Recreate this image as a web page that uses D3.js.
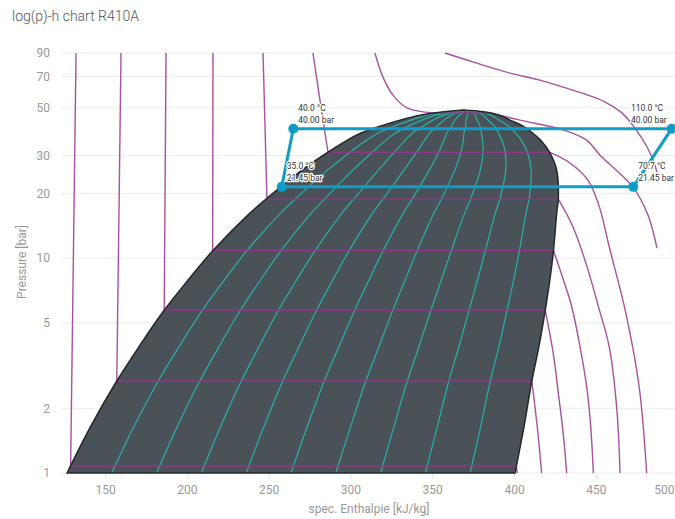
<!DOCTYPE html>
<html>
<head>
<meta charset="utf-8">
<script src="https://cdn.jsdelivr.net/npm/d3@7"></script>
<style>
  body { margin: 0; background: #fff; }
  svg text { font-family: Roboto, "Noto Sans", sans-serif; }
</style>
</head>
<body>
<svg width="675" height="519"></svg>
<script>
// saturation line of R410A, pressure in bar, enthalpy in kJ/kg
let satP  = [1.00, 1.64, 2.68, 3.90, 5.67, 7.82, 10.78, 16.19, 19.0, 25.66, 31.1, 35.4, 38.1, 41.1, 43.85, 46.25, 47.76, 48.8];
let satHl = [126.8, 141.1, 157.2, 171.1, 185.8, 200.3, 215.7, 238.6, 249.1, 270.4, 286.3, 298.2, 306.2, 318.1, 330.3, 342.5, 354.8, 368.8];
let satHv = [400.6, 406.1, 410.9, 415.3, 419.0, 421.8, 424.1, 426.1, 427.1, 426.1, 421.7, 416.2, 411.6, 405.5, 397.6, 390.8, 383.5, 368.8];

// vapour quality lines inside the dome
let qualities = [0.1, 0.2, 0.3, 0.4, 0.5, 0.6, 0.7, 0.8, 0.9];

// isotherms [h, p]: liquid part (down to saturation) and vapour part (from saturation)
let isoTemps = [-50, -30, -10, 10, 30, 50, 70, 90];
let isoLiquid = [
    [[132.3, 90], [129.0, 1.078]],
    [[159.8, 90], [157.2, 2.68]],
    [[187.3, 90], [186.2, 5.73]],
    [[216.0, 90], [215.8, 10.87]],
    [[246.6, 90], [249.0, 18.8]],
    [[277.1, 90], [281.4, 54.3], [286.3, 31.1]],
    [[315.0, 90], [319.9, 69.5], [326.0, 57.3], [334.6, 50.0], [351.0, 47.3]],
    [[357.8, 90], [379.2, 79.9], [397.6, 72.5], [415.9, 67.3], [430.0, 62.4], [443.5, 57.9],
     [455.7, 53.2], [466.1, 47.25], [474.7, 39.5], [481.4, 32.8], [485.0, 28.6], [487.4, 25.1]]
];
let isoVapour = [
    [[401.4, 1.078], [402.0, 1.0]],
    [[410.9, 2.68], [414.2, 1.64], [416.9, 1.0]],
    [[419.1, 5.73], [424.0, 3.6], [427.1, 2.35], [430.0, 1.55], [432.2, 1.0]],
    [[424.1, 10.87], [430.0, 8.0], [435.3, 5.94], [440.0, 4.0], [444.5, 2.5], [447.0, 1.6], [448.5, 1.0]],
    [[427.1, 18.8], [436.0, 14.0], [444.0, 9.45], [452.0, 5.8], [458.2, 3.87], [462.9, 1.96], [464.8, 1.0]],
    [[421.7, 31.1], [434.2, 27.7], [445.2, 23.06], [452.0, 17.5], [458.2, 11.29], [468.4, 5.53], [476.5, 2.52], [481.1, 1.0]],
    [[385.7, 47.3], [403.7, 43.85], [430.1, 39.5], [444.4, 35.4], [452.6, 30.1], [472.7, 21.39], [481.9, 15.87], [487.4, 11.13]],
    []
];

// refrigeration cycle points
let cycleH = [265.1, 258.0, 472.9, 496.4];
let cycleP = [40.0, 21.45, 21.45, 40.0];
let cycleT = [40.0, 35.0, 70.7, 110.0];

// axis ticks
let xTicks = [150, 200, 250, 300, 350, 400, 450, 500];
let yTicks = [1, 2, 5, 10, 20, 30, 50, 70, 90];

let svg = d3.select("svg");
let W = 675;
let plotLeft = 61, plotRight = 690;

let x = d3.scaleLinear().domain([150, 500]).range([105, 677.6]);
let y = d3.scaleLog().domain([1, 90]).range([473, 53]);

let smooth = d3.line()
    .x(function (d) { return x(d[0]); })
    .y(function (d) { return y(d[1]); })
    .curve(d3.curveCatmullRom.alpha(0.5));
let straight = d3.line()
    .x(function (d) { return x(d[0]); })
    .y(function (d) { return y(d[1]); });

// title
svg.append("text")
    .attr("x", 12).attr("y", 21)
    .attr("font-size", 14).attr("font-weight", 300)
    .attr("fill", "#555")
    .text("log(p)-h chart R410A");

// horizontal grid + y labels
let yg = svg.append("g");
yg.selectAll("line").data(yTicks).join("line")
    .attr("x1", plotLeft).attr("x2", W)
    .attr("y1", function (d) { return y(d); })
    .attr("y2", function (d) { return y(d); })
    .attr("stroke", "#ebebeb").attr("stroke-width", 1);
yg.selectAll("text").data(yTicks).join("text")
    .attr("x", 50)
    .attr("y", function (d) { return y(d); })
    .attr("dy", "0.35em")
    .attr("text-anchor", "end")
    .attr("font-size", 12).attr("fill", "#999")
    .text(function (d) { return d; });

// x axis
let xAxis = svg.append("g")
    .attr("transform", "translate(0," + y(1) + ")")
    .call(d3.axisBottom(x).tickValues(xTicks).tickSize(6).tickSizeOuter(0).tickPadding(6));
xAxis.select(".domain").remove();
xAxis.selectAll(".tick line").attr("stroke", "#e3e3e3");
xAxis.selectAll(".tick text").attr("font-size", 12).attr("fill", "#999")
    .attr("font-family", "Roboto, sans-serif");
// keep the last label inside the picture
xAxis.selectAll(".tick text").each(function (d) {
    let w = this.getComputedTextLength();
    if (x(d) + w / 2 > W - 1) {
        d3.select(this).attr("text-anchor", "end").attr("x", W - 1 - x(d));
    }
});

// axis titles
svg.append("text")
    .attr("x", 369).attr("y", 513)
    .attr("text-anchor", "middle")
    .attr("font-size", 12).attr("fill", "#999")
    .text("spec. Enthalpie [kJ/kg]");
svg.append("text")
    .attr("transform", "translate(26,262) rotate(-90)")
    .attr("text-anchor", "middle")
    .attr("font-size", 12).attr("fill", "#999")
    .text("Pressure [bar]");

// dome
let liquidPts = satP.map(function (p, i) { return [satHl[i], p]; });
let vapourPts = satP.map(function (p, i) { return [satHv[i], p]; }).reverse().slice(1);
let domePts = liquidPts.concat(vapourPts);

svg.append("path")
    .attr("d", smooth(domePts) + "Z")
    .attr("fill", "#4a5157");

// quality lines
svg.append("g").selectAll("path").data(qualities).join("path")
    .attr("d", function (q) {
        return smooth(satP.map(function (p, i) {
            return [satHl[i] + q * (satHv[i] - satHl[i]), p];
        }));
    })
    .attr("fill", "none")
    .attr("stroke", "#26b3a6")
    .attr("stroke-width", 1.2);

// isotherms
let iso = svg.append("g")
    .attr("fill", "none")
    .attr("stroke", "#9a3190")
    .attr("stroke-opacity", 0.85)
    .attr("stroke-width", 1.4);
isoTemps.forEach(function (t, i) {
    let liq = isoLiquid[i], vap = isoVapour[i];
    iso.append("path").attr("d", smooth(liq));
    if (vap.length) {
        iso.append("path").attr("d", straight([liq[liq.length - 1], vap[0]]));
        iso.append("path").attr("d", smooth(vap));
    }
});

// dome outline
svg.append("path")
    .attr("d", smooth(domePts) + "Z")
    .attr("fill", "none")
    .attr("stroke", "#23282b")
    .attr("stroke-width", 1.5);

// cycle
let cyc = cycleH.map(function (h, i) { return [h, cycleP[i], cycleT[i]]; });
svg.append("path")
    .attr("d", straight(cyc) + "Z")
    .attr("fill", "none")
    .attr("stroke", "#0f9cc7")
    .attr("stroke-width", 3)
    .attr("stroke-linejoin", "round");
svg.append("g").selectAll("circle").data(cyc).join("circle")
    .attr("cx", function (d) { return x(d[0]); })
    .attr("cy", function (d) { return y(d[1]); })
    .attr("r", 5)
    .attr("fill", "#0f9cc7");

// point labels
let labels = svg.append("g").selectAll("g").data(cyc).join("g");
labels.each(function (d) {
    let g = d3.select(this);
    let l1 = g.append("text").text(d[2].toFixed(1) + " °C");
    let l2 = g.append("text").text(d[1].toFixed(2) + " bar");
    g.selectAll("text")
        .attr("font-size", 8.5)
        .attr("fill", "#333")
        .attr("stroke", "#fff")
        .attr("stroke-width", 2.5)
        .attr("stroke-linejoin", "round")
        .attr("paint-order", "stroke");
    let w = Math.max(l1.node().getComputedTextLength(), l2.node().getComputedTextLength());
    let px = x(d[0]), py = y(d[1]);
    let lx = px + 5;
    if (lx + w > plotRight) lx = px - 5 - w;
    l1.attr("x", lx).attr("y", py - 18);
    l2.attr("x", lx).attr("y", py - 6);
});
</script>
</body>
</html>
